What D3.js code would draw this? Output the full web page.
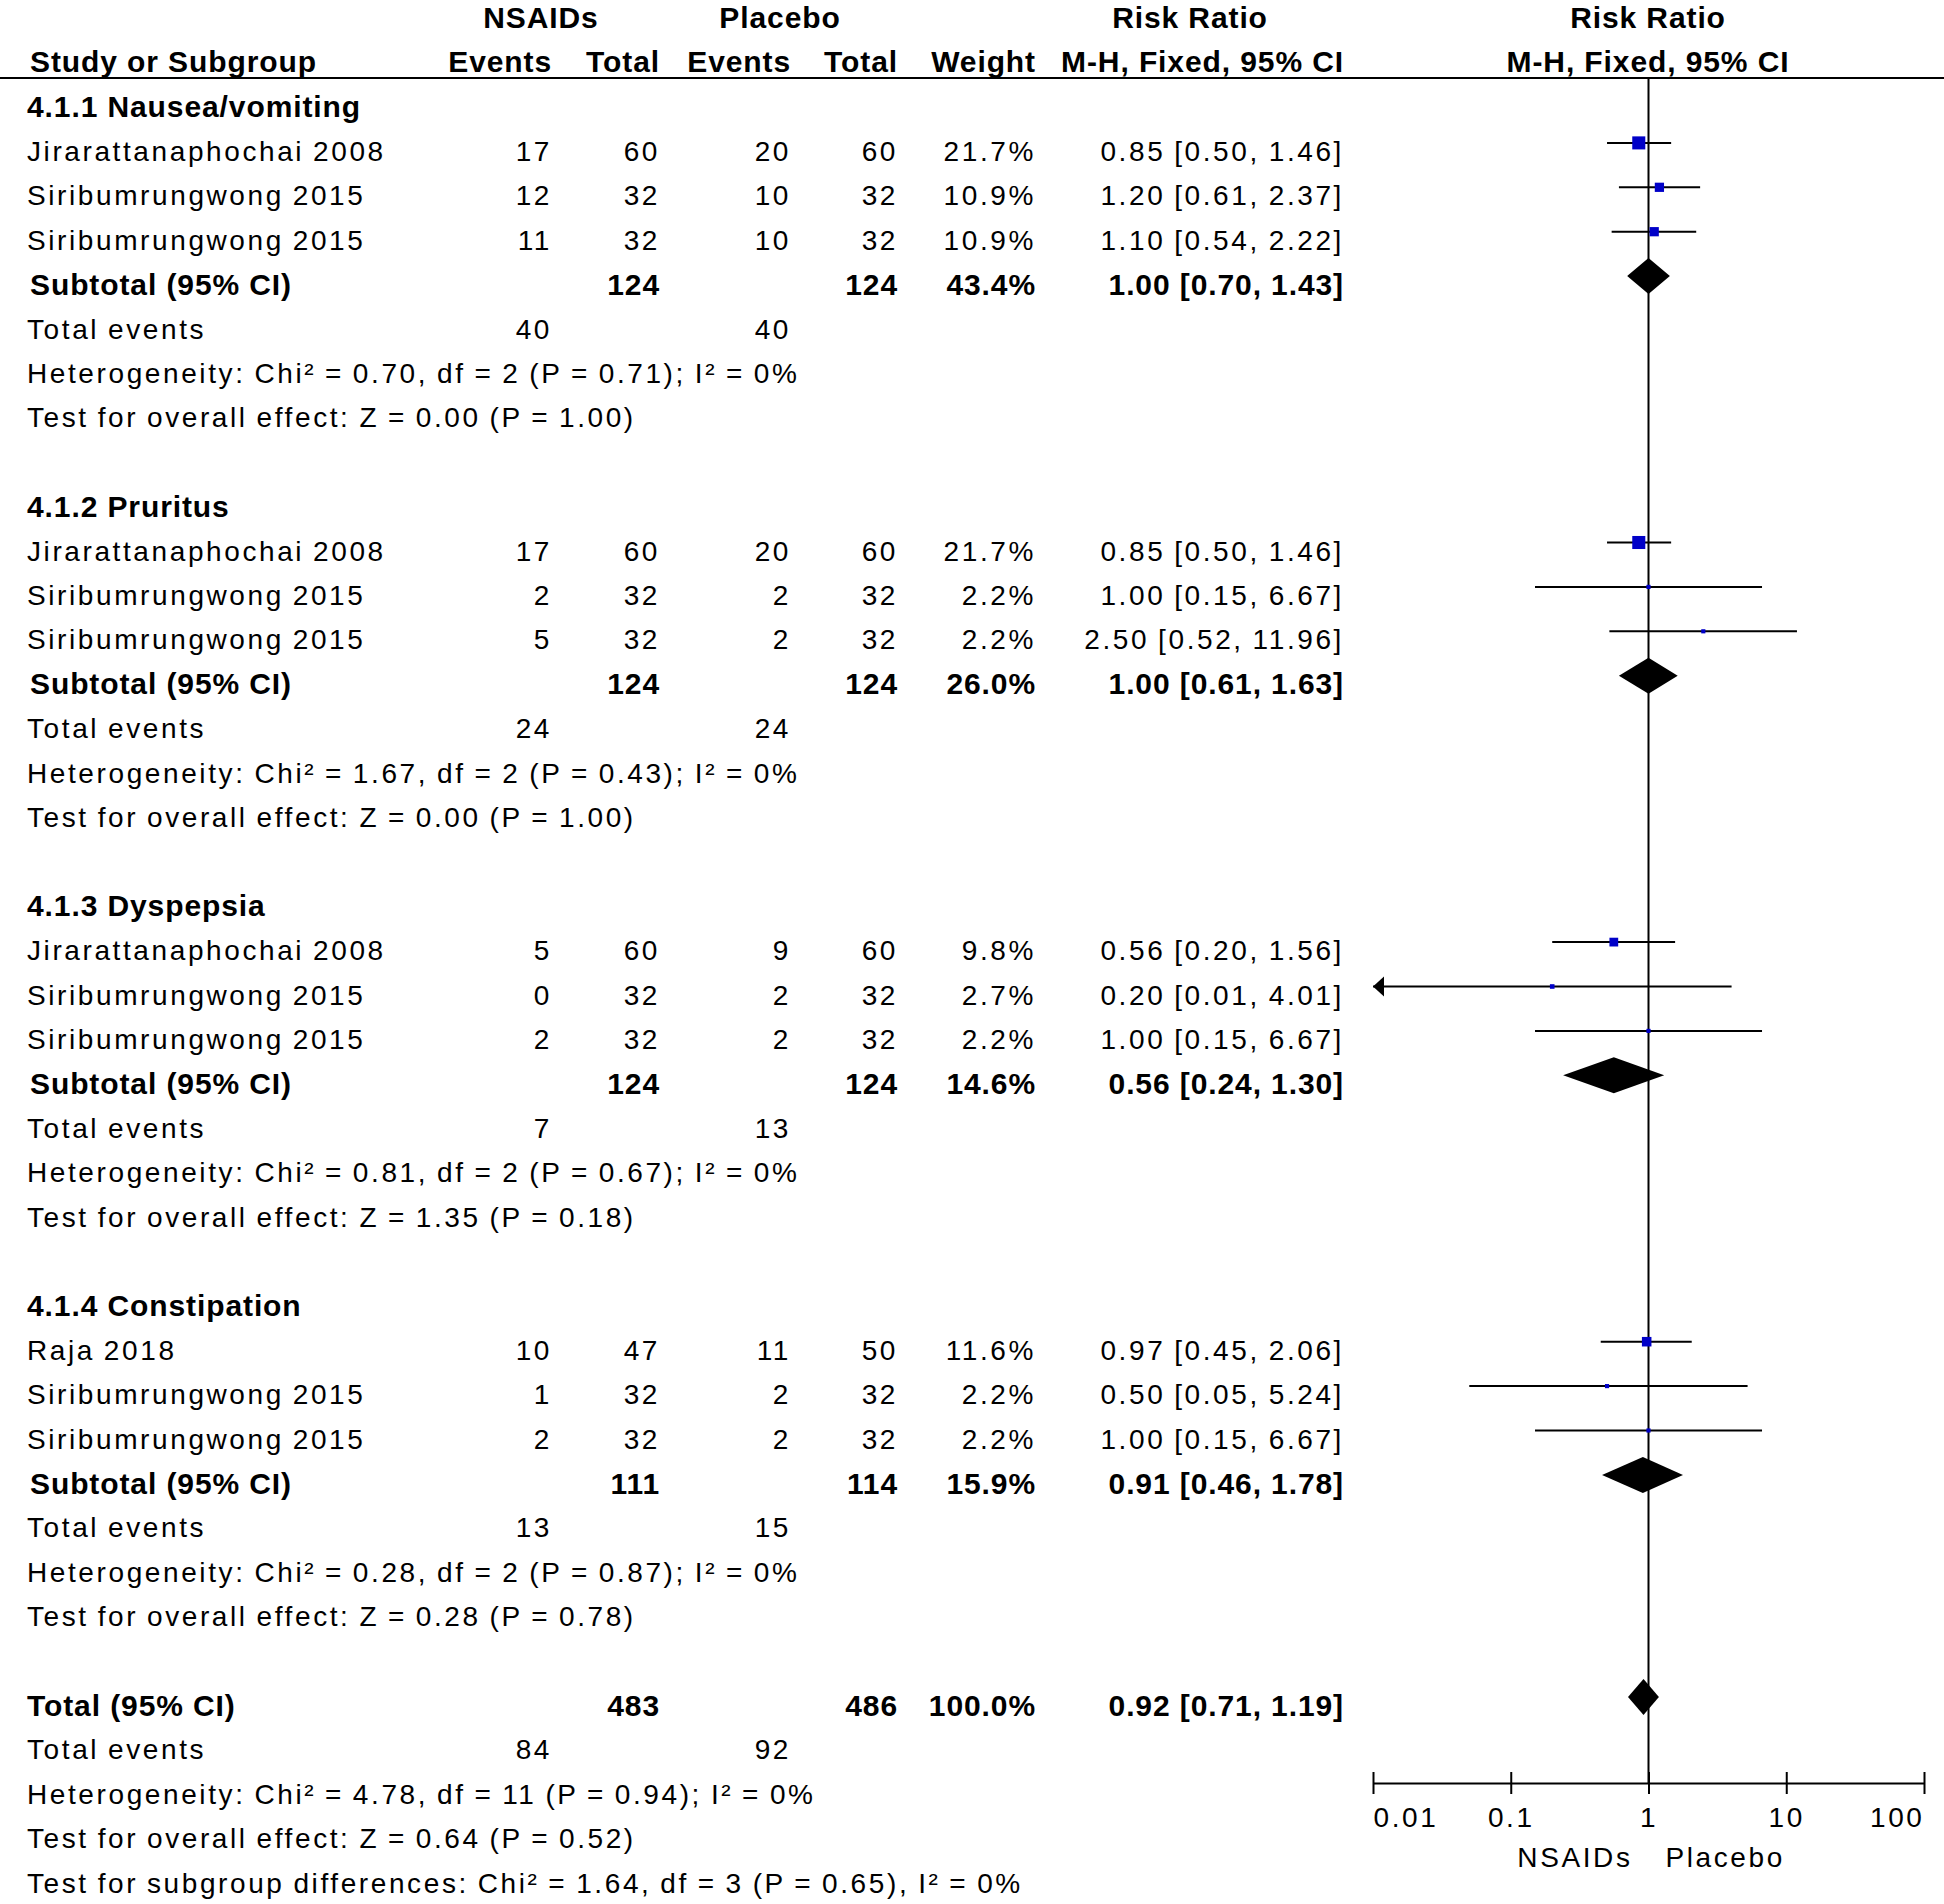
<!DOCTYPE html>
<html>
<head>
<meta charset="utf-8">
<script src="https://cdn.jsdelivr.net/npm/d3@7"></script>
<style>
  body { margin: 0; background: #fff; }
  text { font-family: "Liberation Sans", Arial, sans-serif; fill: #000; }
  .n { font-size: 28px; letter-spacing: 2.6px; word-spacing: -1.5px; }
  .b { font-size: 30px; font-weight: bold; letter-spacing: 0.9px; }
</style>
</head>
<body>
<div id="chart-area"></div>
<script>
// forest plot: NSAIDs vs Placebo, adverse events

var groupNames = ["4.1.1 Nausea/vomiting", "4.1.2 Pruritus", "4.1.3 Dyspepsia", "4.1.4 Constipation"];

var studyNames  = ["Jirarattanaphochai 2008", "Siribumrungwong 2015", "Siribumrungwong 2015",
                   "Jirarattanaphochai 2008", "Siribumrungwong 2015", "Siribumrungwong 2015",
                   "Jirarattanaphochai 2008", "Siribumrungwong 2015", "Siribumrungwong 2015",
                   "Raja 2018", "Siribumrungwong 2015", "Siribumrungwong 2015"];
var studyGroup  = [0, 0, 0, 1, 1, 1, 2, 2, 2, 3, 3, 3];
var expEvents   = [17, 12, 11, 17, 2, 5, 5, 0, 2, 10, 1, 2];
var expTotal    = [60, 32, 32, 60, 32, 32, 60, 32, 32, 47, 32, 32];
var ctlEvents   = [20, 10, 10, 20, 2, 2, 9, 2, 2, 11, 2, 2];
var ctlTotal    = [60, 32, 32, 60, 32, 32, 60, 32, 32, 50, 32, 32];
var studyWeight = [21.7, 10.9, 10.9, 21.7, 2.2, 2.2, 9.8, 2.7, 2.2, 11.6, 2.2, 2.2];
var studyRR     = [0.85, 1.20, 1.10, 0.85, 1.00, 2.50, 0.56, 0.20, 1.00, 0.97, 0.50, 1.00];
var studyLo     = [0.50, 0.61, 0.54, 0.50, 0.15, 0.52, 0.20, 0.01, 0.15, 0.45, 0.05, 0.15];
var studyHi     = [1.46, 2.37, 2.22, 1.46, 6.67, 11.96, 1.56, 4.01, 6.67, 2.06, 5.24, 6.67];

var subExpTotal  = [124, 124, 124, 111];
var subCtlTotal  = [124, 124, 124, 114];
var subExpEvents = [40, 24, 7, 13];
var subCtlEvents = [40, 24, 13, 15];
var subWeight    = [43.4, 26.0, 14.6, 15.9];
var subRR        = [1.00, 1.00, 0.56, 0.91];
var subLo        = [0.70, 0.61, 0.24, 0.46];
var subHi        = [1.43, 1.63, 1.30, 1.78];
var subChi       = [0.70, 1.67, 0.81, 0.28];
var subDf        = [2, 2, 2, 2];
var subChiP      = [0.71, 0.43, 0.67, 0.87];
var subZ         = [0.00, 0.00, 1.35, 0.28];
var subZP        = [1.00, 1.00, 0.18, 0.78];

var total = { expTotal: 483, ctlTotal: 486, expEvents: 84, ctlEvents: 92, weight: 100.0,
              rr: 0.92, lo: 0.71, hi: 1.19, chi: 4.78, df: 11, chiP: 0.94, z: 0.64, zP: 0.52,
              subChi: 1.64, subDf: 3, subP: 0.65 };

var tickValues = [0.01, 0.1, 1, 10, 100];
var tickLabels = ["0.01", "0.1", "1", "10", "100"];

var W = 1944, H = 1904;
var svg = d3.select("#chart-area").append("svg")
    .attr("width", W)
    .attr("height", H);
svg.append("rect").attr("width", W).attr("height", H).attr("fill", "#fff");

var x = d3.scaleLog().domain([0.01, 100]).range([1373, 1924]);
var rowY = d3.scaleLinear().domain([0, 40]).range([106.5, 1882.5]);
var f2 = d3.format(".2f"), f1 = d3.format(".1f");

var col = { expEv: 552, expTot: 660, ctlEv: 791, ctlTot: 898, weight: 1036, ci: 1344 };
var axisY = 1783, headLine = 78;

function txt(str, xp, yc, cls, anchor) {
  var off = cls == "b" ? 10.7 : 10;
  svg.append("text")
    .attr("class", cls)
    .attr("x", xp)
    .attr("y", yc + off)
    .attr("text-anchor", anchor || "start")
    .text(str);
}
function ciText(rr, lo, hi) { return f2(rr) + " [" + f2(lo) + ", " + f2(hi) + "]"; }

// header
txt("NSAIDs", 541, 17, "b", "middle");
txt("Placebo", 780, 17, "b", "middle");
txt("Risk Ratio", 1190, 17, "b", "middle");
txt("Risk Ratio", 1648, 17, "b", "middle");
txt("Study or Subgroup", 30, 61, "b");
txt("Events", col.expEv, 61, "b", "end");
txt("Total", col.expTot, 61, "b", "end");
txt("Events", col.ctlEv, 61, "b", "end");
txt("Total", col.ctlTot, 61, "b", "end");
txt("Weight", col.weight, 61, "b", "end");
txt("M-H, Fixed, 95% CI", col.ci, 61, "b", "end");
txt("M-H, Fixed, 95% CI", 1648, 61, "b", "middle");

svg.append("line")
  .attr("x1", 0).attr("x2", W)
  .attr("y1", headLine).attr("y2", headLine)
  .attr("stroke", "#000").attr("stroke-width", 2);

// line of no effect
svg.append("line")
  .attr("x1", x(1)).attr("x2", x(1))
  .attr("y1", headLine).attr("y2", axisY)
  .attr("stroke", "#000").attr("stroke-width", 2);

var plotG = svg.append("g");
var markOff = -8;

function diamond(rr, lo, hi, yc) {
  var h = 18;
  plotG.append("path")
    .attr("d", "M" + x(lo) + "," + yc + "L" + x(rr) + "," + (yc - h) +
               "L" + x(hi) + "," + yc + "L" + x(rr) + "," + (yc + h) + "Z")
    .attr("fill", "#000");
}

var r = 0;
groupNames.forEach(function(g, gi) {
  txt(g, 27, rowY(r), "b");
  r++;
  studyNames.forEach(function(name, i) {
    if (studyGroup[i] != gi) return;
    var yc = rowY(r);
    txt(name, 27, yc, "n");
    txt(expEvents[i], col.expEv, yc, "n", "end");
    txt(expTotal[i], col.expTot, yc, "n", "end");
    txt(ctlEvents[i], col.ctlEv, yc, "n", "end");
    txt(ctlTotal[i], col.ctlTot, yc, "n", "end");
    txt(f1(studyWeight[i]) + "%", col.weight, yc, "n", "end");
    txt(ciText(studyRR[i], studyLo[i], studyHi[i]), col.ci, yc, "n", "end");

    var my = yc + markOff;
    var lo = Math.max(studyLo[i], 0.01), hi = Math.min(studyHi[i], 100);
    plotG.append("line")
      .attr("x1", x(lo)).attr("x2", x(hi))
      .attr("y1", my).attr("y2", my)
      .attr("stroke", "#000").attr("stroke-width", 2);
    if (studyLo[i] <= 0.01) {
      plotG.append("path")
        .attr("d", "M" + x(0.01) + "," + my + "l11,-10l0,20Z")
        .attr("fill", "#000");
    }
    var s = 2.8 * Math.sqrt(studyWeight[i]);
    plotG.append("rect")
      .attr("x", x(studyRR[i]) - s / 2).attr("y", my - s / 2)
      .attr("width", s).attr("height", s)
      .attr("fill", "#0000c8");
    r++;
  });
  var yc = rowY(r);
  txt("Subtotal (95% CI)", 30, yc, "b");
  txt(subExpTotal[gi], col.expTot, yc, "b", "end");
  txt(subCtlTotal[gi], col.ctlTot, yc, "b", "end");
  txt(f1(subWeight[gi]) + "%", col.weight, yc, "b", "end");
  txt(ciText(subRR[gi], subLo[gi], subHi[gi]), col.ci, yc, "b", "end");
  diamond(subRR[gi], subLo[gi], subHi[gi], yc + markOff);
  r++;
  txt("Total events", 27, rowY(r), "n");
  txt(subExpEvents[gi], col.expEv, rowY(r), "n", "end");
  txt(subCtlEvents[gi], col.ctlEv, rowY(r), "n", "end");
  r++;
  txt("Heterogeneity: Chi² = " + f2(subChi[gi]) + ", df = " + subDf[gi] +
      " (P = " + f2(subChiP[gi]) + "); I² = 0%", 27, rowY(r), "n");
  r++;
  txt("Test for overall effect: Z = " + f2(subZ[gi]) + " (P = " + f2(subZP[gi]) + ")", 27, rowY(r), "n");
  r += 2;
});

// overall
var yt = rowY(r);
txt("Total (95% CI)", 27, yt, "b");
txt(total.expTotal, col.expTot, yt, "b", "end");
txt(total.ctlTotal, col.ctlTot, yt, "b", "end");
txt(f1(total.weight) + "%", col.weight, yt, "b", "end");
txt(ciText(total.rr, total.lo, total.hi), col.ci, yt, "b", "end");
diamond(total.rr, total.lo, total.hi, yt + markOff);
r++;
txt("Total events", 27, rowY(r), "n");
txt(total.expEvents, col.expEv, rowY(r), "n", "end");
txt(total.ctlEvents, col.ctlEv, rowY(r), "n", "end");
r++;
txt("Heterogeneity: Chi² = " + f2(total.chi) + ", df = " + total.df +
    " (P = " + f2(total.chiP) + "); I² = 0%", 27, rowY(r), "n");
r++;
txt("Test for overall effect: Z = " + f2(total.z) + " (P = " + f2(total.zP) + ")", 27, rowY(r), "n");
r++;
txt("Test for subgroup differences: Chi² = " + f2(total.subChi) + ", df = " + total.subDf +
    " (P = " + f2(total.subP) + "), I² = 0%", 27, rowY(r), "n");

// axis
var axis = d3.axisBottom(x)
  .tickValues(tickValues)
  .tickFormat(function(d, i) { return tickLabels[i]; })
  .tickSizeInner(11)
  .tickSizeOuter(0);
var ag = svg.append("g")
  .attr("transform", "translate(0," + axisY + ")")
  .call(axis);
ag.select(".domain").attr("stroke", "#000").attr("stroke-width", 2);
ag.selectAll(".tick line").attr("y1", -11).attr("stroke", "#000").attr("stroke-width", 2);
ag.selectAll(".tick text")
  .attr("class", "n")
  .attr("font-family", null).attr("font-size", null)
  .attr("fill", "#000")
  .attr("y", 44).attr("dy", null)
  .attr("text-anchor", function(d, i) { return i == 0 ? "start" : (i == tickValues.length - 1 ? "end" : "middle"); });
ag.attr("font-family", null).attr("font-size", null);

txt("NSAIDs", x(1) - 16, 1857, "n", "end");
txt("Placebo", x(1) + 17, 1857, "n", "start");
</script>
</body>
</html>
